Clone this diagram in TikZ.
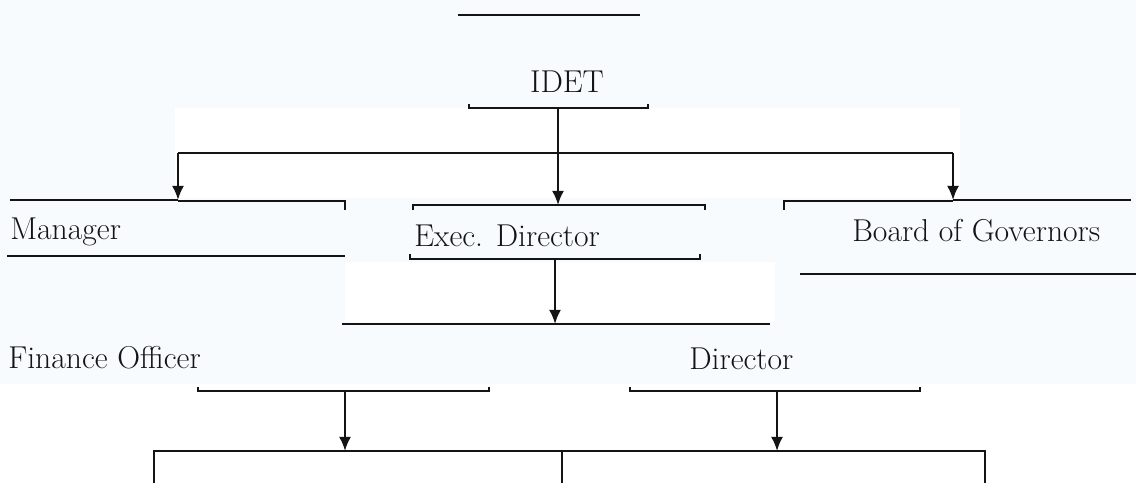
\documentclass[tikz,border=0pt]{standalone}
\usetikzlibrary{arrows.meta}
\definecolor{bgc}{RGB}{248,251,253}
\definecolor{ink}{RGB}{20,20,20}
\begin{document}
\begin{tikzpicture}[x=0.025cm,y=-0.025cm,
  lbl/.style={font=\fontsize{22.5}{27}\selectfont, inner sep=0pt, anchor=west, text=ink},
  rule/.style={line width=1.5pt, draw=ink},
  brk/.style={line width=1.1pt, draw=ink},
  arr/.style={line width=1.5pt, draw=ink, -{Latex[length=10pt,width=8.5pt]}},
  link/.style={line width=1.5pt, draw=ink}
]
\useasboundingbox (0,0) rectangle (1136,483);
\fill[bgc] (0,0) rectangle (1136,483);
\fill[white] (175,108) rectangle (960,198);
\fill[white] (345,262) rectangle (775,322);
\fill[white] (0,384) rectangle (1136,483);

% texts
\node[lbl, anchor=center] (idet) at (567,82) {IDET};
\node[lbl] (mgr) at (10,232) {Manager};
\node[lbl] (exec) at (414,236) {Exec. Director};
\node[lbl] (bog) at (852,231) {Board of Governors};
\node[lbl] (fin) at (8,358) {Finance Officer};
\node[lbl] (dir) at (689,359) {Director};

% named points
\coordinate (idetB) at (558,108);
\coordinate (split) at (558,153);
\coordinate (mgrT) at (178,200);
\coordinate (bogT) at (953,200);
\coordinate (execT) at (558,205);
\coordinate (execB) at (555,259);
\coordinate (row3) at (555,324);
\coordinate (finB) at (345,391);
\coordinate (dirB) at (777,391);
\coordinate (finT) at (345,451);
\coordinate (dirT) at (777,451);

% top rule
\draw[rule] (458,15) -- (640,15);

% IDET bracket
\draw[brk] (469,104) -- (469,108) -- (648,108) -- (648,104);
\draw[arr] (idetB) -- (execT);
\draw[link] (split) -- (178,153);
\draw[link] (split) -- (953,153);
\draw[arr] (178,153) -- (mgrT);
\draw[arr] (953,153) -- (bogT);

% Manager
\draw[rule] (10,200) -- (178,200);
\draw[brk] (178,201) -- (345,201) -- (345,210);
\draw[rule] (7,256) -- (345,256);

% Exec. Director
\draw[brk] (413,210) -- (413,205) -- (705,205) -- (705,210);
\draw[brk] (410,254) -- (410,259) -- (700,259) -- (700,254);
\draw[arr] (execB) -- (row3);

% Board of Governors
\draw[brk] (784,210) -- (784,201) -- (953,201);
\draw[rule] (953,200) -- (1131,200);
\draw[rule] (800,274) -- (1136,274);

% row 3
\draw[brk] (342,324) -- (770,324);

% Finance Officer / Director brackets
\draw[brk] (198,387) -- (198,391) -- (489,391) -- (489,387);
\draw[brk] (630,387) -- (630,391) -- (920,391) -- (920,387);
\draw[arr] (finB) -- (finT);
\draw[arr] (dirB) -- (dirT);

% bottom
\draw[link] (154,483) -- (154,451) -- (985,451) -- (985,483);
\draw[link] (562,451) -- (562,483);
\end{tikzpicture}
\end{document}
